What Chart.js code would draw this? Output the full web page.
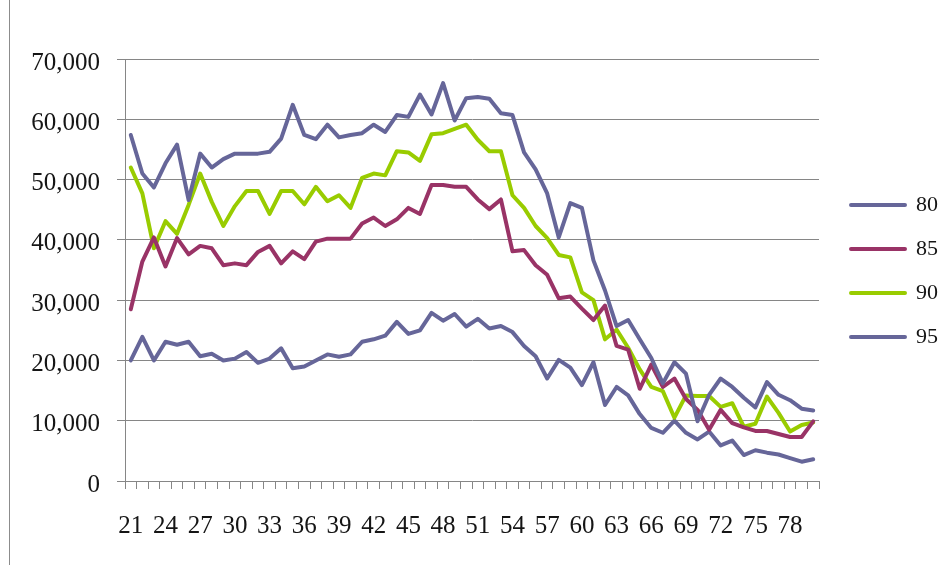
<!DOCTYPE html>
<html>
<head>
<meta charset="utf-8">
<script src="https://cdn.jsdelivr.net/npm/chart.js@4/dist/chart.umd.min.js"></script>
<style>
  html, body { margin: 0; padding: 0; background: #ffffff; }
  #wrap { position: relative; width: 938px; height: 565px; }
  #frame { position: absolute; left: 9px; top: 0; bottom: 0; border-left: 1px solid #8c8c8c; }
  canvas { display: block; }
</style>
</head>
<body>
<div id="wrap">
  <canvas id="chart" width="938" height="565"></canvas>
  <div id="frame"></div>
</div>
<script>
// Ages along the horizontal axis
const ages = [
  '21','22','23','24','25','26','27','28','29','30',
  '31','32','33','34','35','36','37','38','39','40',
  '41','42','43','44','45','46','47','48','49','50',
  '51','52','53','54','55','56','57','58','59','60',
  '61','62','63','64','65','66','67','68','69','70',
  '71','72','73','74','75','76','77','78','79','80'
];

// Ages that carry a printed label
const xTickLabels = ['21','24','27','30','33','36','39','42','45','48','51','54','57','60','63','66','69','72','75','78'];

// Series names
const seriesNames = ['80', '85', '90', '95'];

// Series values by age
const s80 = [
  57400, 51000, 48700, 52700, 55800, 46600, 54300, 52000, 53400, 54300,
  54300, 54300, 54600, 56800, 62400, 57400, 56700, 59100, 57000, 57400,
  57700, 59100, 57900, 60700, 60400, 64100, 60800, 66000, 59800, 63500,
  63700, 63400, 61000, 60700, 54500, 51700, 47700, 40400, 46100, 45300,
  36600, 31600, 25700, 26700, 23500, 20400, 16200, 19700, 17800, 9900,
  14300, 17000, 15600, 13800, 12200, 16400, 14300, 13400, 12000, 11700
];
const s85 = [
  28500, 36400, 40400, 35600, 40300, 37600, 39000, 38600, 35800, 36100,
  35800, 38000, 39000, 36100, 38100, 36800, 39700, 40200, 40200, 40200,
  42700, 43700, 42300, 43400, 45300, 44300, 49100, 49100, 48800, 48800,
  46700, 45100, 46700, 38100, 38300, 35800, 34200, 30300, 30600, 28600,
  26700, 29100, 22400, 21800, 15300, 19300, 15600, 17000, 13600, 11800,
  8500, 11800, 9600, 8900, 8300, 8300, 7800, 7300, 7300, 9900
];
const s90 = [
  52000, 47700, 38600, 43100, 41000, 45800, 51000, 46300, 42300, 45600,
  48100, 48100, 44300, 48100, 48100, 45900, 48800, 46400, 47400, 45300,
  50300, 51000, 50700, 54700, 54500, 53100, 57500, 57700, 58400, 59100,
  56600, 54700, 54700, 47400, 45300, 42300, 40300, 37500, 37100, 31300,
  30000, 23500, 25100, 22100, 18500, 15600, 14900, 10500, 14200, 14100,
  14100, 12300, 12900, 9000, 9500, 14000, 11300, 8200, 9300, 9700
];
const s95 = [
  20000, 23900, 20000, 23100, 22600, 23100, 20700, 21100, 20000, 20300,
  21400, 19600, 20300, 22000, 18700, 19000, 20000, 21000, 20600, 21000,
  23100, 23500, 24100, 26400, 24400, 25000, 27900, 26600, 27700, 25600,
  26900, 25300, 25700, 24700, 22400, 20700, 17000, 20100, 18800, 15900,
  19700, 12600, 15600, 14200, 11100, 8800, 8000, 10000, 8000, 6900,
  8200, 5900, 6700, 4300, 5100, 4700, 4400, 3800, 3200, 3600
];

// Value axis range
const yMin = 0;
const yMax = 70000;
const yStep = 10000;

const seriesValues = [s80, s85, s90, s95];
const seriesColors = ['#666699', '#993366', '#99cc00', '#666699'];

const gridColor = '#868686';
const textColor = '#151515';
const serif = "'Liberation Serif', 'Times New Roman', serif";

const datasets = seriesNames.map((name, k) => ({
  label: name,
  data: seriesValues[k],
  borderColor: seriesColors[k],
  backgroundColor: seriesColors[k],
  borderWidth: 4,
  borderCapStyle: 'round',
  borderJoinStyle: 'round',
  pointRadius: 0,
  pointHoverRadius: 0,
  tension: 0,
  fill: false
}));

// Moves the legend column slightly to the right of the plot
const legendNudge = {
  id: 'legendNudge',
  afterLayout(chart) {
    const lg = chart.legend;
    if (lg) {
      lg.left += 10; lg.right += 10;
      lg.top += 1; lg.bottom += 1;
    }
  }
};

new Chart(document.getElementById('chart'), {
  type: 'line',
  data: { labels: ages, datasets },
  plugins: [legendNudge],
  options: {
    responsive: false,
    devicePixelRatio: 1,
    animation: false,
    layout: { padding: { top: 59, right: 10, bottom: 0, left: 0 } },
    plugins: {
      tooltip: { enabled: false },
      title: { display: false },
      legend: {
        display: true,
        position: 'right',
        fullSize: false,
        maxWidth: 109,
        labels: {
          boxWidth: 54,
          boxHeight: 0,
          padding: 22,
          color: textColor,
          font: { family: serif, size: 22 }
        }
      }
    },
    scales: {
      x: {
        type: 'category',
        offset: true,
        afterFit(scale) { scale.height = 84; },
        grid: {
          offset: true,
          drawOnChartArea: false,
          drawTicks: true,
          tickLength: 8,
          color: gridColor,
          lineWidth: 1
        },
        border: { display: true, color: gridColor, width: 1 },
        ticks: {
          autoSkip: false,
          maxRotation: 0,
          minRotation: 0,
          padding: 22,
          color: textColor,
          font: { family: serif, size: 25 },
          callback(value, index) {
            const lab = ages[index];
            return xTickLabels.includes(lab) ? lab : '';
          }
        }
      },
      y: {
        min: yMin,
        max: yMax,
        afterFit(scale) { scale.width = 125; },
        grid: {
          drawTicks: true,
          tickLength: 8,
          color: gridColor,
          lineWidth: 1
        },
        border: { display: true, color: gridColor, width: 1 },
        ticks: {
          stepSize: yStep,
          padding: 17,
          labelOffset: 4,
          color: textColor,
          font: { family: serif, size: 25 },
          callback(value) { return Number(value).toLocaleString('en-US'); }
        }
      }
    }
  }
});
</script>
</body>
</html>
